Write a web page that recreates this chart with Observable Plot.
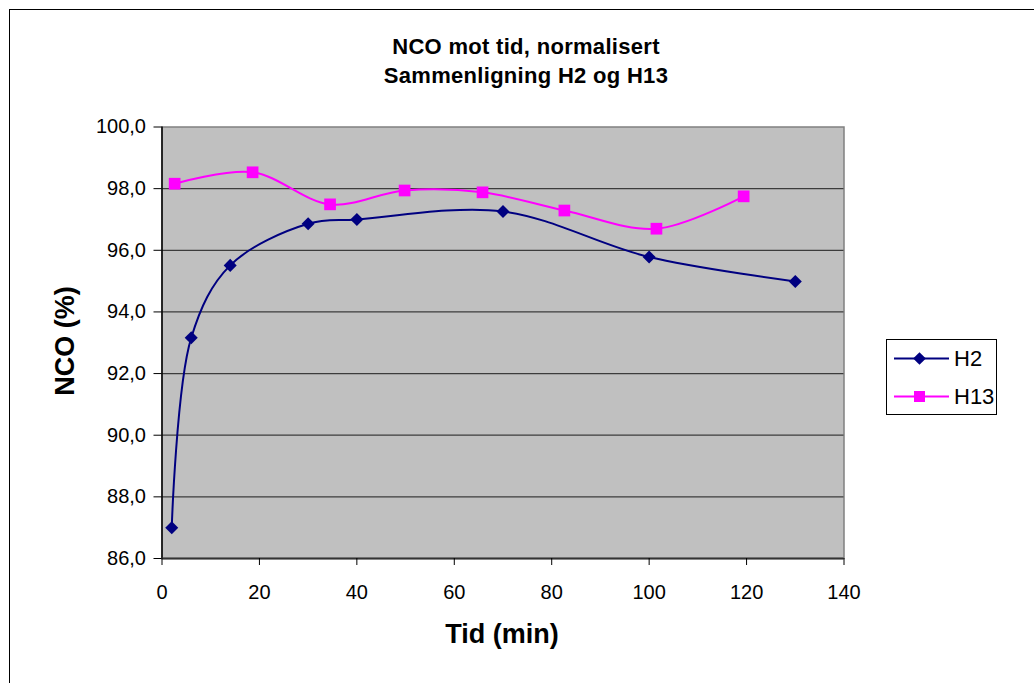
<!DOCTYPE html>
<html>
<head>
<meta charset="utf-8">
<script src="https://cdn.jsdelivr.net/npm/d3@7"></script>
<script src="https://cdn.jsdelivr.net/npm/@observablehq/plot@0.6"></script>
<style>
  html, body { margin: 0; padding: 0; background: #fff; }
  #wrap { position: relative; width: 1034px; height: 683px; overflow: hidden; font-family: Arial, "Liberation Sans", sans-serif; }
  #frame { position: absolute; left: 9px; top: 9px; width: 1100px; height: 800px; border-left: 1px solid #000; border-top: 1px solid #000; box-sizing: border-box; }
  #chart { position: absolute; left: 0; top: 0; }
  .title { position: absolute; left: 0; width: 1052px; text-align: center; font-weight: bold; font-size: 22px; line-height: 22px; color: #000; letter-spacing: 0.3px; }
  #xtitle { position: absolute; left: 0; width: 1004px; top: 621px; text-align: center; font-weight: bold; font-size: 27px; line-height: 27px; }
  #ytitle { position: absolute; left: 65px; top: 341px; transform: translate(-50%, -50%) rotate(-90deg); white-space: nowrap; font-weight: bold; font-size: 27px; line-height: 27px; }
  #legend { position: absolute; left: 886px; top: 339px; width: 111px; height: 76px; border: 1px solid #000; box-sizing: border-box; background: #fff; }
  .lrow { position: absolute; left: 0; height: 24px; width: 111px; }
  .lrow svg { position: absolute; left: 6px; top: 0; }
  .lrow span { position: absolute; left: 67px; top: 0px; font-size: 22px; line-height: 22px; }
</style>
</head>
<body>
<div id="wrap">
  <div id="frame"></div>
  <div id="chart"></div>
  <div class="title" style="top:36px">NCO mot tid, normalisert</div>
  <div class="title" style="top:65px">Sammenligning H2 og H13</div>
  <div id="ytitle">NCO (%)</div>
  <div id="xtitle">Tid (min)</div>
  <div id="legend"></div>
</div>
<script>
// Data
const seriesNames = ["H2", "H13"];
const h2Time = [2, 6, 14, 30, 40, 70, 100, 130];
const h2Value = [87.0, 93.16, 95.51, 96.86, 97.0, 97.26, 95.78, 94.99];
const h13Time = [2.6, 18.6, 34.5, 49.8, 65.8, 82.6, 101.5, 119.4];
const h13Value = [98.16, 98.53, 97.49, 97.94, 97.88, 97.29, 96.70, 97.75];
const xTicks = [0, 20, 40, 60, 80, 100, 120, 140];
const yTicks = [86, 88, 90, 92, 94, 96, 98, 100];
const colors = {H2: "#000080", H13: "#FF00FF"};

const h2 = h2Time.map((t, i) => ({t, v: h2Value[i], s: "H2"}));
const h13 = h13Time.map((t, i) => ({t, v: h13Value[i], s: "H13"}));

const fmt = v => d3.format(".1f")(v).replace(".", ",");

const plot = Plot.plot({
  width: 1034,
  height: 683,
  marginLeft: 161.5,
  marginRight: 190.5,
  marginTop: 126.5,
  marginBottom: 125,
  style: {fontFamily: "Arial, 'Liberation Sans', sans-serif", fontSize: "20px", background: "transparent", color: "#000"},
  x: {domain: [0, 140], ticks: xTicks},
  y: {domain: [86, 100], ticks: yTicks},
  marks: [
    Plot.frame({fill: "#C0C0C0", stroke: "#808080", strokeWidth: 1.5}),
    Plot.ruleY(yTicks.filter(v => v > 86 && v < 100), {stroke: "#3c3c3c", strokeWidth: 1.3}),
    Plot.ruleX([0], {stroke: "#000", strokeWidth: 1.5}),
    Plot.ruleY([86], {stroke: "#333", strokeWidth: 2}),
    Plot.axisX({ticks: xTicks, tickSize: 7, tickPadding: 19, label: null, fontSize: 20, stroke: "#000"}),
    Plot.axisY({ticks: yTicks, tickSize: 8, tickPadding: 8, label: null, fontSize: 20, tickFormat: fmt, stroke: "#000"}),
    Plot.line(h13, {x: "t", y: "v", stroke: colors.H13, strokeWidth: 2, curve: "catmull-rom"}),
    Plot.line(h2, {x: "t", y: "v", stroke: colors.H2, strokeWidth: 2, curve: "catmull-rom"}),
    Plot.dot(h13, {x: "t", y: "v", symbol: "square", r: 6.6, fill: colors.H13, stroke: "none"}),
    Plot.dot(h2, {x: "t", y: "v", symbol: "square", rotate: 45, r: 5.2, fill: colors.H2, stroke: "none"})
  ]
});
document.getElementById("chart").appendChild(plot);

// Legend
const legend = document.getElementById("legend");
seriesNames.forEach((name, i) => {
  const row = document.createElement("div");
  row.className = "lrow";
  row.style.top = (i === 0 ? 8 : 46) + "px";
  const c = colors[name];
  const marker = name === "H2"
    ? `<rect x="22" y="6" width="9" height="9" fill="${c}" transform="rotate(45 26.5 10.5)"/>`
    : `<rect x="21" y="5" width="11" height="11" fill="${c}"/>`;
  row.innerHTML = `<svg width="60" height="22"><line x1="1" x2="56" y1="10.5" y2="10.5" stroke="${c}" stroke-width="2"/>${marker}</svg><span>${name}</span>`;
  legend.appendChild(row);
});
</script>
</body>
</html>
